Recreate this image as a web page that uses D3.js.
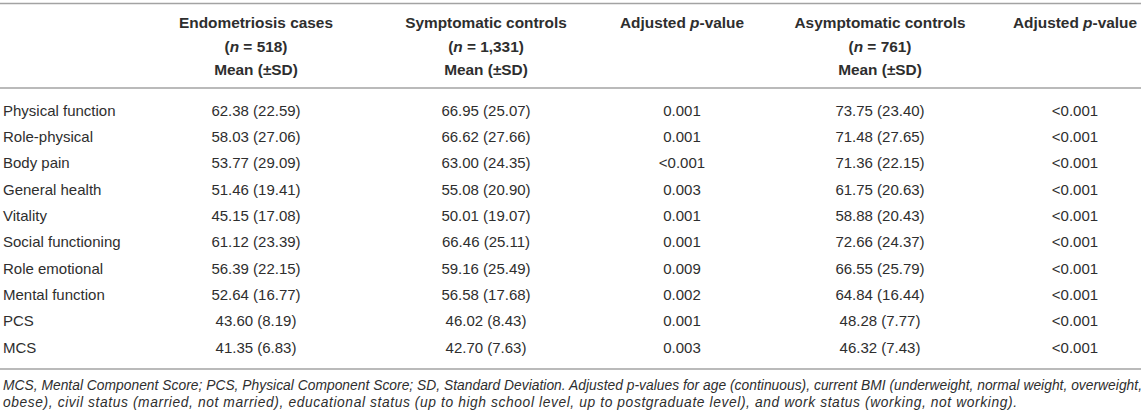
<!DOCTYPE html>
<html>
<head>
<meta charset="utf-8">
<script src="https://cdn.jsdelivr.net/npm/d3@7"></script>
<style>
  body { margin: 0; background: #fff; }
  svg text { font-family: "Liberation Sans", Arial, Helvetica, sans-serif; fill: #2e2e2e; }
</style>
</head>
<body>
<div id="table"></div>
<script>
// table data
const categories = ["Physical function", "Role-physical", "Body pain", "General health", "Vitality",
  "Social functioning", "Role emotional", "Mental function", "PCS", "MCS"];
const endoMean = ["62.38", "58.03", "53.77", "51.46", "45.15", "61.12", "56.39", "52.64", "43.60", "41.35"];
const endoSD = ["22.59", "27.06", "29.09", "19.41", "17.08", "23.39", "22.15", "16.77", "8.19", "6.83"];
const sympMean = ["66.95", "66.62", "63.00", "55.08", "50.01", "66.46", "59.16", "56.58", "46.02", "42.70"];
const sympSD = ["25.07", "27.66", "24.35", "20.90", "19.07", "25.11", "25.49", "17.68", "8.43", "7.63"];
const sympP = ["0.001", "0.001", "<0.001", "0.003", "0.001", "0.001", "0.009", "0.002", "0.001", "0.003"];
const asymMean = ["73.75", "71.48", "71.36", "61.75", "58.88", "72.66", "66.55", "64.84", "48.28", "46.32"];
const asymSD = ["23.40", "27.65", "22.15", "20.63", "20.43", "24.37", "25.79", "16.44", "7.77", "7.43"];
const asymP = ["<0.001", "<0.001", "<0.001", "<0.001", "<0.001", "<0.001", "<0.001", "<0.001", "<0.001", "<0.001"];

const columns = ["endo", "symp", "sympP", "asym", "asymP"];
const groupNames = ["Endometriosis cases", "Symptomatic controls", "Adjusted ", "Asymptomatic controls", "Adjusted "];
const groupN = ["518", "1,331", null, "761", null];

const footnote = [
  "MCS, Mental Component Score; PCS, Physical Component Score; SD, Standard Deviation. Adjusted p-values for age (continuous), current BMI (underweight, normal weight, overweight,",
  "obese), civil status (married, not married), educational status (up to high school level, up to postgraduate level), and work status (working, not working)."
];

const w = 1145;
const h = 418;

const svg = d3.select("#table")
  .append("svg")
  .attr("width", w)
  .attr("height", h);

// column centers and row positions
const x = d3.scaleOrdinal()
  .domain(columns)
  .range([256, 486, 682, 880, 1075]);

const y = d3.scalePoint()
  .domain(categories)
  .range([115.5, 352.5]);

// rules
const rules = [3.5, 88, 369];
svg.selectAll("line.rule")
  .data(rules)
  .enter()
  .append("line")
  .attr("class", "rule")
  .attr("x1", 0)
  .attr("x2", 1141)
  .attr("y1", (d) => d)
  .attr("y2", (d) => d)
  .style("stroke", "#a3a3a3")
  .style("stroke-width", 1.4);

// header
const header = svg.append("g")
  .style("font-weight", "bold")
  .style("font-size", "15.4px")
  .style("fill", "#222");

columns.forEach((c, i) => {
  const t = header.append("text")
    .attr("x", x(c))
    .attr("y", 28)
    .attr("text-anchor", "middle");
  t.append("tspan").text(groupNames[i]);
  if (groupN[i] === null) {
    t.append("tspan").style("font-style", "italic").text("p");
    t.append("tspan").text("-value");
  } else {
    const n = header.append("text")
      .attr("x", x(c))
      .attr("y", 51.5)
      .attr("text-anchor", "middle");
    n.append("tspan").text("(");
    n.append("tspan").style("font-style", "italic").text("n");
    n.append("tspan").text(" = " + groupN[i] + ")");
    header.append("text")
      .attr("x", x(c))
      .attr("y", 75)
      .attr("text-anchor", "middle")
      .text("Mean (\u00b1SD)");
  }
});

// body rows
const rows = categories.map((d, i) => ({
  name: d,
  endo: `${endoMean[i]} (${endoSD[i]})`,
  symp: `${sympMean[i]} (${sympSD[i]})`,
  sympP: sympP[i],
  asym: `${asymMean[i]} (${asymSD[i]})`,
  asymP: asymP[i]
}));

const body = svg.append("g").style("font-size", "15px");

body.selectAll("text.label")
  .data(rows)
  .enter()
  .append("text")
  .attr("class", "label")
  .attr("x", 3)
  .attr("y", (d) => y(d.name))
  .text((d) => d.name);

columns.forEach((c) => {
  body.selectAll("text.c-" + c)
    .data(rows)
    .enter()
    .append("text")
    .attr("class", "c-" + c)
    .attr("x", x(c))
    .attr("y", (d) => y(d.name))
    .attr("text-anchor", "middle")
    .text((d) => d[c]);
});

// footnote
svg.selectAll("text.note")
  .data(footnote)
  .enter()
  .append("text")
  .attr("class", "note")
  .attr("x", 3)
  .attr("y", (d, i) => 389.5 + i * 17)
  .attr("textLength", (d, i) => i === 0 ? 1139 : 1014)
  .attr("lengthAdjust", "spacing")
  .style("font-size", "13.8px")
  .style("font-style", "italic")
  .text((d) => d);
</script>
</body>
</html>
